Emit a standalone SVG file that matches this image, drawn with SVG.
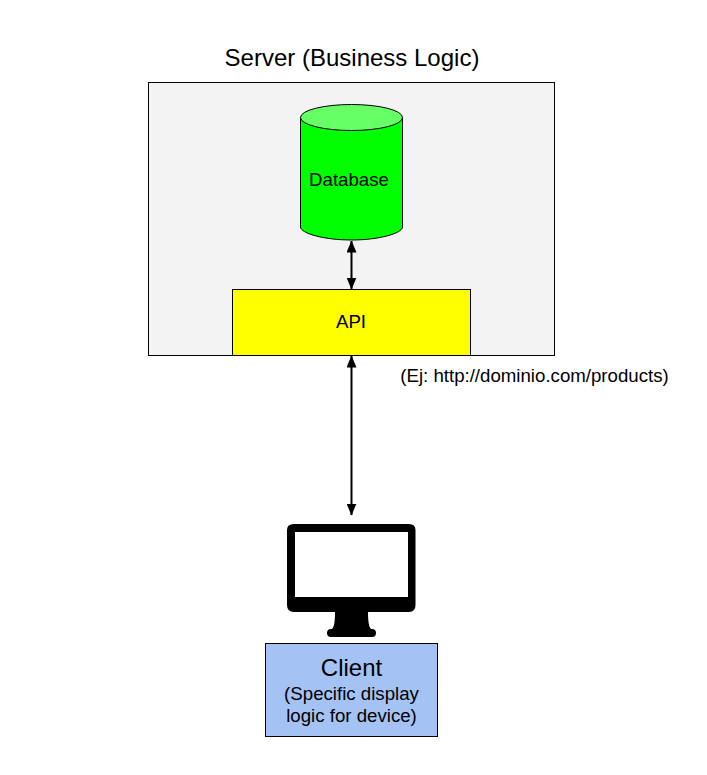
<svg xmlns="http://www.w3.org/2000/svg" width="707" height="775" viewBox="0 0 707 775">
<style>
text{font-family:"Liberation Sans",Arial,sans-serif;fill:#000;text-anchor:middle}
.box{stroke:#000;stroke-width:1}
.conn{stroke:#000;stroke-width:2;fill:none;marker-start:url(#a);marker-end:url(#a)}
.small{font-size:18.670px}
</style>
<defs>
<marker id="a" viewBox="0 0 12 10" refX="11.500" refY="5" markerUnits="userSpaceOnUse" markerWidth="12" markerHeight="10" orient="auto-start-reverse"><path d="M0 0L12 5L0 10Z" fill="#000"/></marker>
</defs>
<rect width="707" height="775" fill="#fff"/>
<g id="server">
<rect class="box" x="148.500" y="82.500" width="406" height="273" fill="#f3f3f3"/>
<text x="352" y="66" font-size="24">Server (Business Logic)</text>
</g>
<g id="database">
<path class="box" d="M300.500 117.500V227C300.500 233 323 240 351.500 240S402.500 233 402.500 227V117.500Z" fill="#00ff00"/>
<ellipse class="box" cx="351.500" cy="117.500" rx="51" ry="13" fill="#66ff66"/>
<text class="small" x="349" y="186">Database</text>
</g>
<g id="api">
<rect class="box" x="232.500" y="289.500" width="238" height="66" fill="#ffff00"/>
<text class="small" x="351" y="328">API</text>
</g>
<g id="connectors">
<line class="conn" x1="351.500" y1="241" x2="351.500" y2="289"/>
<line class="conn" x1="351.500" y1="356" x2="351.500" y2="515"/>
</g>
<text id="api-note" class="small" x="534.500" y="382">(Ej: http://dominio.com/products)</text>
<g id="monitor">
<path d="M294 524H409Q415.500 524 415.500 530V605Q415.500 612 409 612H368C368 622 369 627 371 629H372A4 4 0 0 1 372 637H331A4 4 0 0 1 331 629H332C334 627 335 622 335 612H294Q287 612 287 605V530Q287 524 294 524Z" fill="#000"/>
<rect x="295" y="532" width="113" height="65" fill="#fff"/>
</g>
<g id="client">
<rect class="box" x="265.500" y="643.500" width="172" height="93" fill="#a4c2f4"/>
<text x="351.500" y="676" font-size="24">Client</text>
<text class="small" x="351.500" y="700">(Specific display</text>
<text class="small" x="351.500" y="722">logic for device)</text>
</g>
</svg>
